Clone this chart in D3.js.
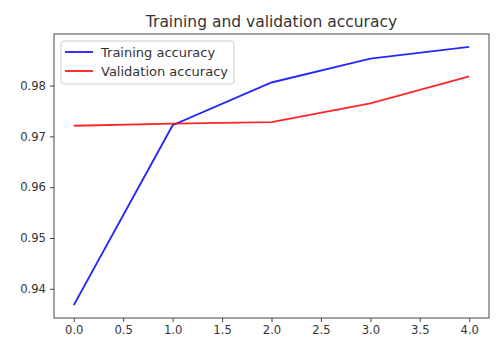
<!DOCTYPE html>
<html>
<head>
<meta charset="utf-8">
<script src="https://cdn.jsdelivr.net/npm/d3@7"></script>
<style>
  body { margin: 0; background: #fff; }
  text { font-family: "DejaVu Sans", sans-serif; fill: #333; }
</style>
</head>
<body>
<div id="chart"></div>
<script>
'use strict';

// data
const epochs = [0, 1, 2, 3, 4];
const trainAcc = [0.9368, 0.9722, 0.9806, 0.9853, 0.9876];
const valAcc = [0.9721, 0.9725, 0.9728, 0.9765, 0.9818];
const xTicks = [0, 0.5, 1, 1.5, 2, 2.5, 3, 3.5, 4];
const yTicks = [0.94, 0.95, 0.96, 0.97, 0.98];
const seriesNames = ["Training accuracy", "Validation accuracy"];
const seriesColors = ["#0000ff", "#ff0000"];

var margin = { top: 34, right: 11, bottom: 35, left: 54 },
    width = 500 - margin.left - margin.right,
    height = 353 - margin.top - margin.bottom;

var all = trainAcc.concat(valAcc);
var yMin = d3.min(all), yMax = d3.max(all), yPad = (yMax - yMin) * 0.05;

var x = d3.scaleLinear()
    .domain([-0.2, 4.2])
    .range([0, width]);

var y = d3.scaleLinear()
    .domain([yMin - yPad, yMax + yPad])
    .range([height, 0]);

var svg = d3.select("#chart").append("svg")
    .attr("width", 500)
    .attr("height", 353);

var g = svg.append("g")
    .attr("transform", "translate(" + margin.left + "," + margin.top + ")");

var xAxis = d3.axisBottom(x)
    .tickValues(xTicks)
    .tickFormat(d3.format(".1f"))
    .tickSize(4)
    .tickPadding(4);

var yAxis = d3.axisLeft(y)
    .tickValues(yTicks)
    .tickFormat(d3.format(".2f"))
    .tickSize(4)
    .tickPadding(4);

g.append("g")
    .attr("transform", "translate(0," + height + ")")
    .call(xAxis)
    .call(a => a.select(".domain").remove());

g.append("g")
    .call(yAxis)
    .call(a => a.select(".domain").remove());

g.selectAll(".tick line").attr("stroke", "#444").attr("stroke-width", 1);
g.selectAll(".tick text")
    .style("font-size", "11.6px")
    .style("font-family", "DejaVu Sans, sans-serif")
    .attr("fill", "#333");

var line = d3.line()
    .x(function (d, i) { return x(epochs[i]); })
    .y(function (d) { return y(d); });

[trainAcc, valAcc].forEach(function (s, i) {
    g.append("path")
        .datum(s)
        .style("fill", "none")
        .style("stroke", seriesColors[i])
        .style("stroke-width", "1.9px")
        .style("stroke-opacity", 0.85)
        .attr("d", line);
});

// frame
g.append("rect")
    .attr("width", width)
    .attr("height", height)
    .attr("fill", "none")
    .attr("stroke", "#444")
    .attr("stroke-width", 1);

// title
svg.append("text")
    .attr("x", margin.left + width / 2)
    .attr("y", 27)
    .attr("text-anchor", "middle")
    .style("font-size", "15.5px")
    .text("Training and validation accuracy");

// legend
var lg = g.append("g").attr("transform", "translate(7,7)");
lg.append("rect")
    .attr("width", 173)
    .attr("height", 43)
    .attr("rx", 3)
    .attr("fill", "#fff")
    .attr("fill-opacity", 0.8)
    .attr("stroke", "#ccc");
seriesNames.forEach(function (name, i) {
    var yy = 11 + i * 19;
    lg.append("line")
        .attr("x1", 4).attr("x2", 32)
        .attr("y1", yy).attr("y2", yy)
        .attr("stroke", seriesColors[i])
        .attr("stroke-width", 1.9)
        .attr("stroke-opacity", 0.85);
    lg.append("text")
        .attr("x", 40)
        .attr("y", yy)
        .attr("dy", "0.35em")
        .style("font-size", "13px")
        .text(name);
});
</script>
</body>
</html>
